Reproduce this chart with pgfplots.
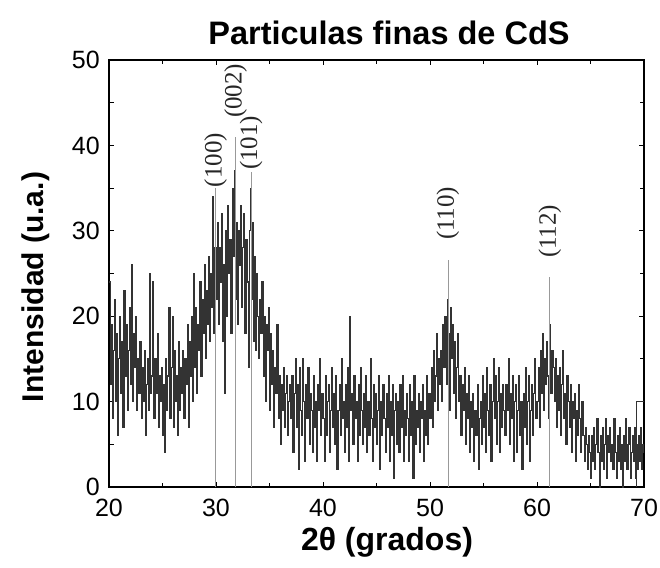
\documentclass[border=0pt]{standalone}
\usepackage{pgfplots}
\pgfplotsset{compat=1.18}
\usepackage{fontspec}
\setmainfont{Liberation Sans}
\newfontfamily\idxfont{Liberation Serif}
\definecolor{trace}{HTML}{333333}
\begin{document}
\begin{tikzpicture}
\useasboundingbox (0,0) rectangle (660pt,567pt);
\begin{axis}[
  at={(109pt,80pt)}, anchor=south west,
  width=535pt, height=427pt, scale only axis,
  xmin=20, xmax=70, ymin=0, ymax=50,
  xtick={20,30,...,70}, ytick={0,10,...,50},
  minor x tick num=1, minor y tick num=1,
  tick align=inside, major tick length=5pt, minor tick length=4.5pt,
  axis line style={line width=1.3pt},
  every tick/.style={black, line width=1pt},
  /pgf/number format/assume math mode=true,
  ticklabel style={font=\fontsize{25}{27}\selectfont, inner sep=0pt},
  yticklabel style={xshift=-9pt},
  xticklabel style={yshift=-12pt},
  clip mode=individual,
]
% diffractogram
\addplot[const plot, trace, line width=1.1pt] coordinates {
(20.0,24)(20.1,12)(20.2,19)(20.3,8)(20.4,16)(20.5,22)(20.6,10)(20.7,18)(20.8,6)(20.9,15)
(21.0,20)(21.1,11)(21.2,17)(21.3,7)(21.4,23)(21.5,13)(21.6,19)(21.7,9)(21.8,16)(21.9,21)
(22.0,12)(22.1,26)(22.2,10)(22.3,18)(22.4,14)(22.5,20)(22.6,9)(22.7,15)(22.8,11)(22.9,17)
(23.0,8)(23.1,14)(23.2,10)(23.3,16)(23.4,6)(23.5,12)(23.6,15)(23.7,9)(23.8,25)(23.9,11)
(24.0,13)(24.1,24)(24.2,8)(24.3,15)(24.4,11)(24.5,18)(24.6,7)(24.7,13)(24.8,10)(24.9,14)
(25.0,6)(25.1,12)(25.2,4)(25.3,15)(25.4,9)(25.5,13)(25.6,21)(25.7,8)(25.8,14)(25.9,20)
(26.0,7)(26.1,16)(26.2,10)(26.3,13)(26.4,6)(26.5,17)(26.6,9)(26.7,14)(26.8,11)(26.9,16)
(27.0,8)(27.1,15)(27.2,12)(27.3,19)(27.4,7)(27.5,17)(27.6,13)(27.7,20)(27.8,10)(27.9,25)
(28.0,14)(28.1,21)(28.2,11)(28.3,19)(28.4,16)(28.5,24)(28.6,13)(28.7,22)(28.8,18)(28.9,26)
(29.0,15)(29.1,23)(29.2,19)(29.3,27)(29.4,17)(29.5,25)(29.6,21)(29.7,34)(29.8,18)(29.9,28)
(30.0,22)(30.1,31)(30.2,19)(30.3,28)(30.4,24)(30.5,32)(30.6,17)(30.7,26)(30.8,11)(30.9,30)
(31.0,20)(31.1,33)(31.2,25)(31.3,29)(31.4,18)(31.5,35)(31.6,27)(31.7,37)(31.8,22)(31.9,31)
(32.0,19)(32.1,30)(32.2,26)(32.3,33)(32.4,21)(32.5,28)(32.6,32)(32.7,18)(32.8,29)(32.9,24)
(33.0,14)(33.1,30)(33.2,35)(33.3,22)(33.4,31)(33.5,17)(33.6,27)(33.7,16)(33.8,25)(33.9,20)
(34.0,15)(34.1,22)(34.2,18)(34.3,24)(34.4,13)(34.5,20)(34.6,10)(34.7,19)(34.8,16)(34.9,21)
(35.0,9)(35.1,18)(35.2,12)(35.3,16)(35.4,7)(35.5,14)(35.6,11)(35.7,19)(35.8,8)(35.9,13)
(36.0,5)(36.1,12)(36.2,9)(36.3,14)(36.4,7)(36.5,11)(36.6,13)(36.7,6)(36.8,10)(36.9,12)
(37.0,8)(37.1,13)(37.2,4)(37.3,11)(37.4,15)(37.5,7)(37.6,12)(37.7,2)(37.8,14)(37.9,9)
(38.0,6)(38.1,15)(38.2,10)(38.3,3)(38.4,12)(38.5,8)(38.6,14)(38.7,5)(38.8,11)(38.9,9)
(39.0,4)(39.1,13)(39.2,7)(39.3,10)(39.4,3)(39.5,12)(39.6,9)(39.7,15)(39.8,6)(39.9,11)
(40.0,8)(40.1,3)(40.2,13)(40.3,6)(40.4,10)(40.5,12)(40.6,4)(40.7,9)(40.8,14)(40.9,7)
(41.0,11)(41.1,5)(41.2,13)(41.3,2)(41.4,9)(41.5,12)(41.6,6)(41.7,15)(41.8,8)(41.9,10)
(42.0,4)(42.1,12)(42.2,7)(42.3,14)(42.4,3)(42.5,20)(42.6,9)(42.7,11)(42.8,5)(42.9,13)
(43.0,8)(43.1,10)(43.2,3)(43.3,12)(43.4,6)(43.5,14)(43.6,9)(43.7,5)(43.8,11)(43.9,7)
(44.0,13)(44.1,4)(44.2,10)(44.3,6)(44.4,15)(44.5,8)(44.6,3)(44.7,12)(44.8,7)(44.9,11)
(45.0,5)(45.1,9)(45.2,13)(45.3,2)(45.4,10)(45.5,6)(45.6,12)(45.7,8)(45.8,4)(45.9,11)
(46.0,7)(46.1,13)(46.2,3)(46.3,10)(46.4,6)(46.5,12)(46.6,1)(46.7,9)(46.8,11)(46.9,5)
(47.0,10)(47.1,4)(47.2,12)(47.3,7)(47.4,13)(47.5,3)(47.6,9)(47.7,6)(47.8,11)(47.9,8)
(48.0,3)(48.1,12)(48.2,6)(48.3,10)(48.4,1)(48.5,13)(48.6,5)(48.7,9)(48.8,7)(48.9,11)
(49.0,4)(49.1,10)(49.2,8)(49.3,12)(49.4,3)(49.5,9)(49.6,6)(49.7,13)(49.8,5)(49.9,11)
(50.0,8)(50.1,14)(50.2,7)(50.3,16)(50.4,10)(50.5,13)(50.6,18)(50.7,9)(50.8,15)(50.9,12)
(51.0,16)(51.1,10)(51.2,19)(51.3,14)(51.4,20)(51.5,12)(51.6,22)(51.7,18)(51.8,9)(51.9,21)
(52.0,15)(52.1,19)(52.2,11)(52.3,17)(52.4,8)(52.5,14)(52.6,18)(52.7,10)(52.8,13)(52.9,6)
(53.0,12)(53.1,9)(53.2,14)(53.3,5)(53.4,11)(53.5,8)(53.6,13)(53.7,4)(53.8,10)(53.9,7)
(54.0,11)(54.1,3)(54.2,9)(54.3,6)(54.4,12)(54.5,2)(54.6,8)(54.7,10)(54.8,5)(54.9,13)
(55.0,7)(55.1,11)(55.2,4)(55.3,14)(55.4,9)(55.5,6)(55.6,12)(55.7,3)(55.8,10)(55.9,15)
(56.0,8)(56.1,13)(56.2,5)(56.3,10)(56.4,14)(56.5,4)(56.6,11)(56.7,7)(56.8,12)(56.9,9)
(57.0,6)(57.1,12)(57.2,9)(57.3,15)(57.4,5)(57.5,11)(57.6,8)(57.7,13)(57.8,3)(57.9,10)
(58.0,12)(58.1,4)(58.2,9)(58.3,13)(58.4,6)(58.5,10)(58.6,2)(58.7,11)(58.8,7)(58.9,14)
(59.0,5)(59.1,10)(59.2,13)(59.3,3)(59.4,9)(59.5,12)(59.6,6)(59.7,11)(59.8,15)(59.9,8)
(60.0,10)(60.1,14)(60.2,7)(60.3,16)(60.4,11)(60.5,18)(60.6,9)(60.7,15)(60.8,12)(60.9,17)
(61.0,13)(61.1,8)(61.2,19)(61.3,11)(61.4,16)(61.5,14)(61.6,10)(61.7,15)(61.8,7)(61.9,13)
(62.0,9)(62.1,14)(62.2,6)(62.3,12)(62.4,16)(62.5,8)(62.6,11)(62.7,5)(62.8,13)(62.9,10)
(63.0,7)(63.1,12)(63.2,4)(63.3,10)(63.4,8)(63.5,11)(63.6,3)(63.7,9)(63.8,6)(63.9,12)
(64.0,8)(64.1,4)(64.2,10)(64.3,6)(64.4,3)(64.5,7)(64.6,5)(64.7,2)(64.8,6)(64.9,4)
(65.0,1)(65.1,6)(65.2,3)(65.3,7)(65.4,2)(65.5,5)(65.6,8)(65.7,4)(65.8,0)(65.9,6)
(66.0,3)(66.1,7)(66.2,2)(66.3,5)(66.4,8)(66.5,1)(66.6,6)(66.7,4)(66.8,7)(66.9,3)
(67.0,5)(67.1,2)(67.2,8)(67.3,4)(67.4,1)(67.5,6)(67.6,3)(67.7,7)(67.8,2)(67.9,5)
(68.0,0)(68.1,6)(68.2,3)(68.3,8)(68.4,2)(68.5,5)(68.6,7)(68.7,1)(68.8,4)(68.9,6)
(69.0,3)(69.1,7)(69.2,1)(69.3,5)(69.4,2)(69.5,6)(69.6,3)(69.7,7)(69.8,2)(69.9,5)
(70.0,4)
};
% end segment of the scan
\addplot[trace, line width=1pt] coordinates {(69.3,0)(69.3,10)(70,10)};
% reflection positions
\addplot[black!40, line width=0.8pt] coordinates {(29.97,0)(29.97,35.0)};
\addplot[black!40, line width=0.8pt] coordinates {(31.84,0)(31.84,41.0)};
\addplot[black!40, line width=0.8pt] coordinates {(33.27,0)(33.27,36.9)};
\addplot[black!40, line width=0.8pt] coordinates {(51.68,0)(51.68,26.6)};
\addplot[black!40, line width=0.8pt] coordinates {(61.20,0)(61.20,24.6)};
\begin{scope}[every node/.style={rotate=90, anchor=west, inner sep=0pt, text=black!85,
    font=\idxfont\fontsize{25}{25}\selectfont}]
\node at (axis cs:29.97,35.1) {(100)};
\node at (axis cs:31.84,43.2) {(002)};
\node at (axis cs:33.27,37.1) {(101)};
\node at (axis cs:51.68,28.9) {(110)};
\node at (axis cs:61.20,26.8) {(112)};
\end{scope}
\end{axis}
\node[anchor=base, font=\fontsize{32.5}{34}\selectfont\bfseries] at (389pt,522pt) {Particulas finas de CdS};
\node[anchor=base, font=\fontsize{32}{34}\selectfont\bfseries] at (387pt,17pt) {2θ (grados)};
\node[anchor=base, rotate=90, font=\fontsize{30}{32}\selectfont\bfseries] at (43pt,280pt) {Intensidad (u.a.)};
\end{tikzpicture}
\end{document}
